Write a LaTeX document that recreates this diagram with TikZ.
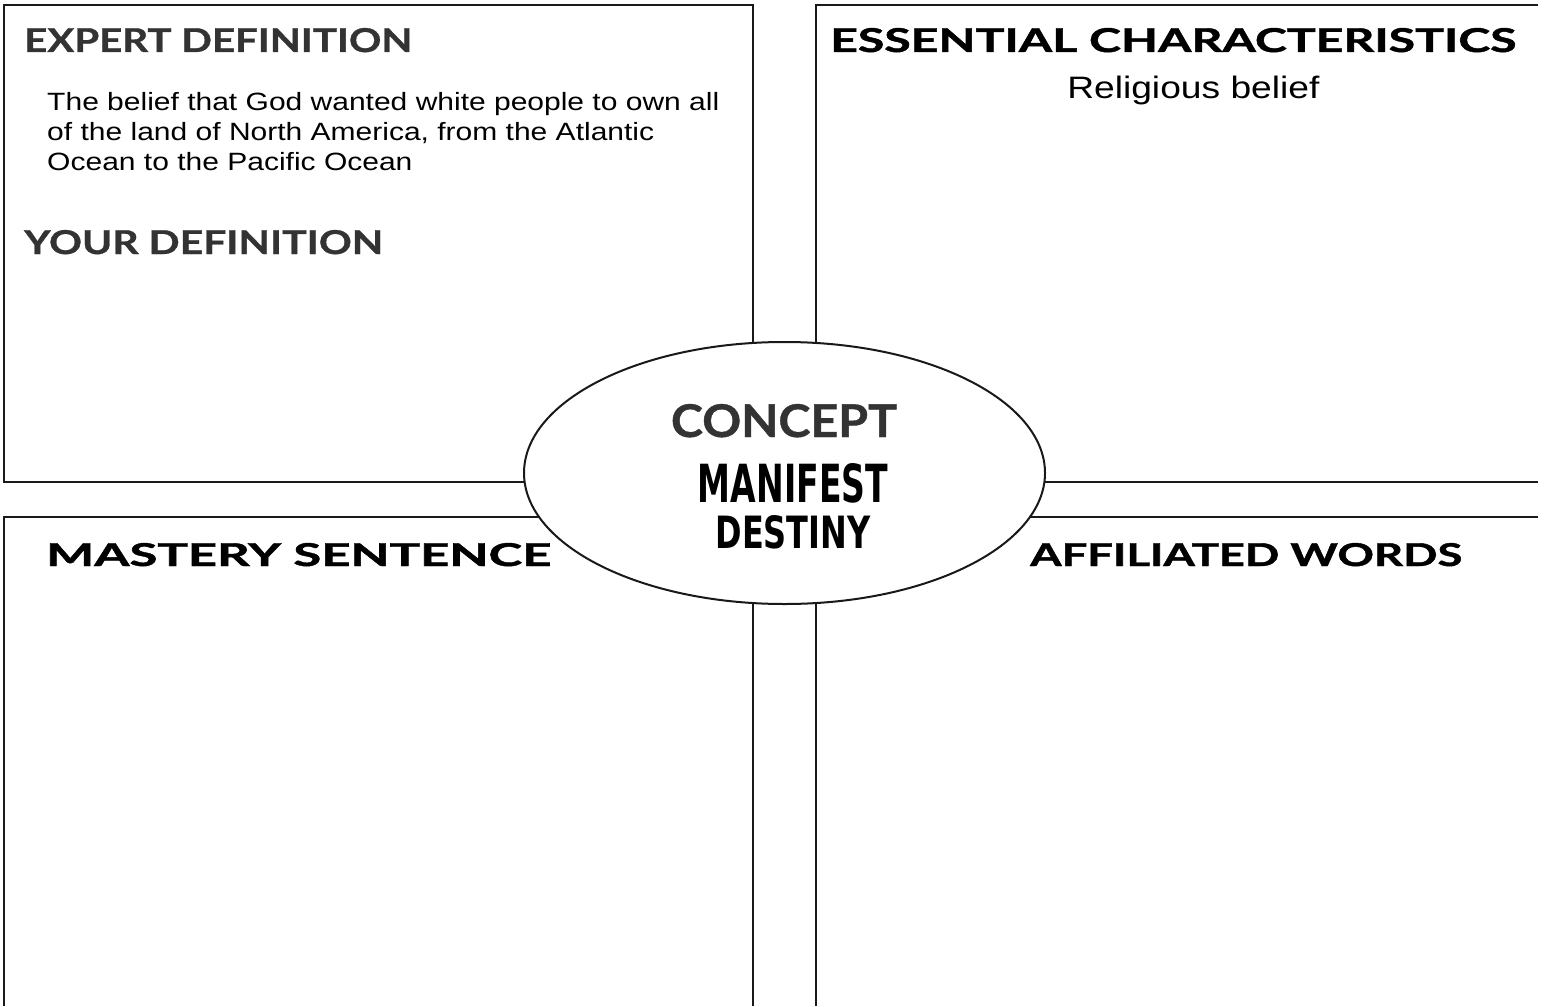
\documentclass[tikz,border=0pt]{standalone}
\usepackage{fontspec}
\usepackage{graphicx}
\usetikzlibrary{shapes.geometric}
\setmainfont{Liberation Sans}
\newfontfamily\headfont{Lato}[BoldFeatures={FakeBold=0.8}]
\newfontfamily\widefont{Lato}[BoldFeatures={FakeBold=1.2}]
\newfontfamily\blockfont{DejaVu Sans}
\colorlet{headgray}{black!80}
\colorlet{framegray}{black!90}
% squeeze a caps line to a given width and cap height (pt)
\newcommand{\fitcaps}[3]{\resizebox{#1pt}{#2pt}{#3}}

\begin{document}
\begin{tikzpicture}[x=1pt,y=-1pt,
        frame/.style={framegray, line width=2pt},
        heading/.style={anchor=base west, inner sep=0pt, font=\headfont\bfseries},
        wideheading/.style={anchor=base west, inner sep=0pt, font=\widefont\bfseries},
        bodytext/.style={anchor=base west, inner sep=0pt, align=left, xscale=1.2}]
    \useasboundingbox (0,0) rectangle (1546,1006);
    % the four boxes
    \draw[frame] (4,5) rectangle (753,482);
    \draw[frame] (1538,5) -- (816,5) -- (816,482) -- (1538,482);
    \draw[frame] (4,1006) -- (4,517) -- (753,517) -- (753,1006);
    \draw[frame] (816,1006) -- (816,517) -- (1538,517);
    % headings
    \node[heading, headgray] (expert) at (24,52) {\fitcaps{388}{24}{EXPERT DEFINITION}};
    \node[heading, headgray] (yours) at (24,254) {\fitcaps{359}{24}{YOUR DEFINITION}};
    \node[wideheading] (essential) at (830,52) {\fitcaps{686}{24}{ESSENTIAL CHARACTERISTICS}};
    \node[wideheading] (mastery) at (46,566) {\fitcaps{505}{23}{MASTERY SENTENCE}};
    \node[wideheading] (affiliated) at (1030,566) {\fitcaps{432}{23}{AFFILIATED WORDS}};
    % filled in texts (last line sits on the base)
    \node[bodytext, font={\fontsize{25}{30}\selectfont}] (definition) at (47,170)
        {The belief that God wanted white people to own all\\
         of the land of North America, from the Atlantic\\
         Ocean to the Pacific Ocean};
    \node[bodytext, font={\fontsize{31}{36}\selectfont}] (belief) at (1067,99) {Religious belief};
    % the concept in the middle
    \node[draw, ellipse, frame, fill=white, minimum width=521pt, minimum height=262pt,
          inner sep=0pt] (concept) at (784.5,473) {};
    \node[heading, anchor=base, headgray] (conceptlabel) at (784,437) {\fitcaps{226}{33}{CONCEPT}};
    \node[anchor=base, inner sep=0pt, align=center, font=\blockfont\bfseries] (conceptname)
        at (793,548) {\fitcaps{190}{39}{MANIFEST}\\[11pt]\fitcaps{155}{33}{DESTINY}};
\end{tikzpicture}
\end{document}
